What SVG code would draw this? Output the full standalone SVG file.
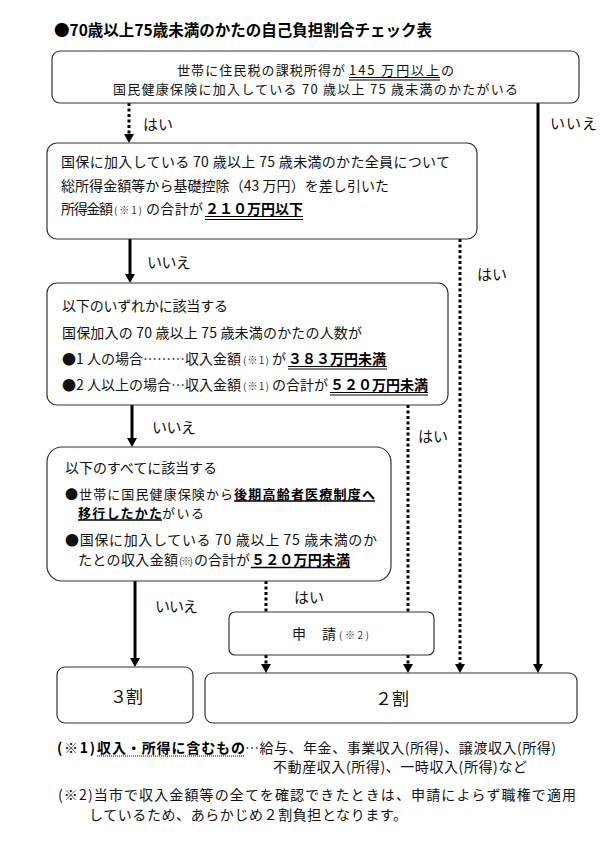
<svg xmlns="http://www.w3.org/2000/svg" width="610" height="852" viewBox="0 0 610 852">
<style>
text{font-family:"Noto Sans CJK JP","Noto Sans",sans-serif;fill:#111;font-size:14px}
.t{font-size:15.5px;font-weight:bold;fill:#000}
.b{font-weight:bold;fill:#000}
.sm{font-size:10px;fill:#333}
.lbl{font-size:15px}
.big{font-size:17px}
.tight{font-size:13px}
.box{fill:#fff;stroke:#333;stroke-width:1.2}
.ul{stroke:#000;stroke-width:1}
.ul2{stroke:#000;stroke-width:1.6}
.solid{stroke:#000;stroke-width:3;fill:none}
.dot{stroke:#000;stroke-width:3;fill:none;stroke-dasharray:3 2.5}
</style>
<defs>
<marker id="ah" viewBox="0 0 9 10" markerWidth="9" markerHeight="10" refX="0" refY="5" orient="auto" markerUnits="userSpaceOnUse">
<path d="M0,0 L9,5 L0,10 z" fill="#000"/>
</marker>
</defs>
<rect width="610" height="852" fill="#fff"/>
<text class="t" x="54" y="36" textLength="378" lengthAdjust="spacing">●70歳以上75歳未満のかたの自己負担割合チェック表</text>

<g id="connectors">
<path class="dot" d="M129,103 V134" marker-end="url(#ah)"/>
<path class="solid" d="M538,103 V664" marker-end="url(#ah)"/>
<path class="solid" d="M130,239 V274" marker-end="url(#ah)"/>
<path class="dot" d="M460,239 V664" marker-end="url(#ah)"/>
<path class="solid" d="M132,405 V438" marker-end="url(#ah)"/>
<path class="dot" d="M408,405 V612"/>
<path class="dot" d="M266,581 V612"/>
<path class="dot" d="M266,655 V664" marker-end="url(#ah)"/>
<path class="dot" d="M408,655 V664" marker-end="url(#ah)"/>
<path class="solid" d="M135,581 V658" marker-end="url(#ah)"/>
<text class="lbl" x="143" y="130">はい</text>
<text class="lbl" x="550" y="129" textLength="47" lengthAdjust="spacing">いいえ</text>
<text class="lbl" x="147" y="268" textLength="44" lengthAdjust="spacing">いいえ</text>
<text class="lbl" x="477" y="280">はい</text>
<text class="lbl" x="152" y="433" textLength="44" lengthAdjust="spacing">いいえ</text>
<text class="lbl" x="418" y="442">はい</text>
<text class="lbl" x="155" y="612" textLength="43" lengthAdjust="spacing">いいえ</text>
<text class="lbl" x="294" y="603">はい</text>
</g>

<g id="node-start">
<rect class="box" x="52" y="51" width="527" height="52" rx="8"/>
<text class="tight" x="177" y="74.5" textLength="168" lengthAdjust="spacing">世帯に住民税の課税所得が</text>
<text class="tight" x="349" y="74.5" textLength="90" lengthAdjust="spacing">145 万円以上</text>
<text class="tight" x="441" y="74.5">の</text>
<line class="ul" x1="349" y1="77.5" x2="440" y2="77.5"/>
<line class="ul" x1="349" y1="80" x2="440" y2="80"/>
<text class="tight" x="113" y="93.5" textLength="405" lengthAdjust="spacing">国民健康保険に加入している 70 歳以上 75 歳未満のかたがいる</text>
</g>

<g id="node-q1">
<rect class="box" x="47" y="143" width="430" height="96" rx="10"/>
<text x="61" y="167" textLength="389" lengthAdjust="spacing">国保に加入している 70 歳以上 75 歳未満のかた全員について</text>
<text x="61" y="191" textLength="328" lengthAdjust="spacing">総所得金額等から基礎控除（43 万円）を差し引いた</text>
<text x="61" y="214" textLength="52" lengthAdjust="spacing">所得金額</text>
<text class="sm" x="114" y="214" textLength="28" lengthAdjust="spacing">(※1)</text>
<text x="146" y="214" textLength="57" lengthAdjust="spacing">の合計が</text>
<text class="b" x="205" y="214" textLength="98" lengthAdjust="spacing">２１０万円以下</text>
<line class="ul" x1="205" y1="216.5" x2="303" y2="216.5"/>
<line class="ul" x1="205" y1="219.5" x2="303" y2="219.5"/>
</g>

<g id="node-q2">
<rect class="box" x="47" y="283" width="401" height="122" rx="10"/>
<text x="62" y="311" textLength="166" lengthAdjust="spacing">以下のいずれかに該当する</text>
<text x="62" y="338" textLength="300" lengthAdjust="spacing">国保加入の 70 歳以上 75 歳未満のかたの人数が</text>
<text x="62" y="364" textLength="179" lengthAdjust="spacing">●1 人の場合………収入金額</text>
<text class="sm" x="243" y="364" textLength="26" lengthAdjust="spacing">(※1)</text>
<text x="272" y="364">が</text>
<text class="b" x="288" y="364" textLength="98" lengthAdjust="spacing">３８３万円未満</text>
<line class="ul" x1="288" y1="366.5" x2="387" y2="366.5"/>
<line class="ul" x1="288" y1="369" x2="387" y2="369"/>
<text x="62" y="390" textLength="179" lengthAdjust="spacing">●2 人以上の場合…収入金額</text>
<text class="sm" x="243" y="390" textLength="26" lengthAdjust="spacing">(※1)</text>
<text x="272" y="390" textLength="56" lengthAdjust="spacing">の合計が</text>
<text class="b" x="330" y="390" textLength="98" lengthAdjust="spacing">５２０万円未満</text>
<line class="ul" x1="330" y1="392.5" x2="428" y2="392.5"/>
<line class="ul" x1="330" y1="395" x2="428" y2="395"/>
</g>

<g id="node-q3">
<rect class="box" x="47" y="447" width="344" height="134" rx="15"/>
<text x="65" y="473" textLength="152" lengthAdjust="spacing">以下のすべてに該当する</text>
<text class="tight" x="65" y="498.5" textLength="168" lengthAdjust="spacing">●世帯に国民健康保険から</text>
<text class="tight b" x="234" y="498.5" textLength="141" lengthAdjust="spacing">後期高齢者医療制度へ</text>
<line class="ul2" x1="234" y1="501" x2="375" y2="501"/>
<text class="tight b" x="78" y="517.5" textLength="84" lengthAdjust="spacing">移行したかた</text>
<text class="tight" x="162" y="517.5" textLength="42" lengthAdjust="spacing">がいる</text>
<line class="ul2" x1="78" y1="520" x2="162" y2="520"/>
<text x="65" y="545" textLength="312" lengthAdjust="spacing">●国保に加入している 70 歳以上 75 歳未満のか</text>
<text x="78" y="565" textLength="100" lengthAdjust="spacing">たとの収入金額</text>
<text class="sm" x="179" y="565" font-size="9" textLength="14" lengthAdjust="spacing">(※)</text>
<text x="194" y="565" textLength="56" lengthAdjust="spacing">の合計が</text>
<text class="b" x="251" y="565" textLength="99" lengthAdjust="spacing">５２０万円未満</text>
<line class="ul2" x1="251" y1="567.5" x2="350" y2="567.5"/>
</g>

<g id="node-apply">
<rect class="box" x="229" y="612" width="205" height="43" rx="6"/>
<text x="292" y="639" font-size="15">申</text>
<text x="322" y="639" font-size="15">請</text>
<text class="sm" x="339" y="639" font-size="10.5" textLength="30" lengthAdjust="spacing">(※2)</text>
</g>

<g id="node-3wari">
<rect class="box" x="57" y="667" width="136" height="56" rx="8"/>
<text class="big" x="110" y="703" textLength="33" lengthAdjust="spacing">３割</text>
</g>

<g id="node-2wari">
<rect class="box" x="205" y="673" width="372" height="50" rx="8"/>
<text class="big" x="375" y="705" textLength="34" lengthAdjust="spacing">２割</text>
</g>

<g id="notes">
<text class="b" x="57" y="753" textLength="38" lengthAdjust="spacing">(※1)</text>
<text class="b" x="97" y="753" textLength="148" lengthAdjust="spacing">収入・所得に含むもの</text>
<line x1="97" y1="756" x2="245" y2="756" stroke="#000" stroke-width="1" stroke-dasharray="1 1"/>
<text x="245" y="753" textLength="311" lengthAdjust="spacing">…給与、年金、事業収入(所得)、譲渡収入(所得)</text>
<text x="273" y="772" textLength="254" lengthAdjust="spacing">不動産収入(所得)、一時収入(所得)など</text>
<text x="58" y="800" font-size="15" textLength="518" lengthAdjust="spacing">(※2)当市で収入金額等の全てを確認できたときは、申請によらず職権で適用</text>
<text x="89" y="820" font-size="15" textLength="318" lengthAdjust="spacing">しているため、あらかじめ２割負担となります。</text>
</g>
</svg>
